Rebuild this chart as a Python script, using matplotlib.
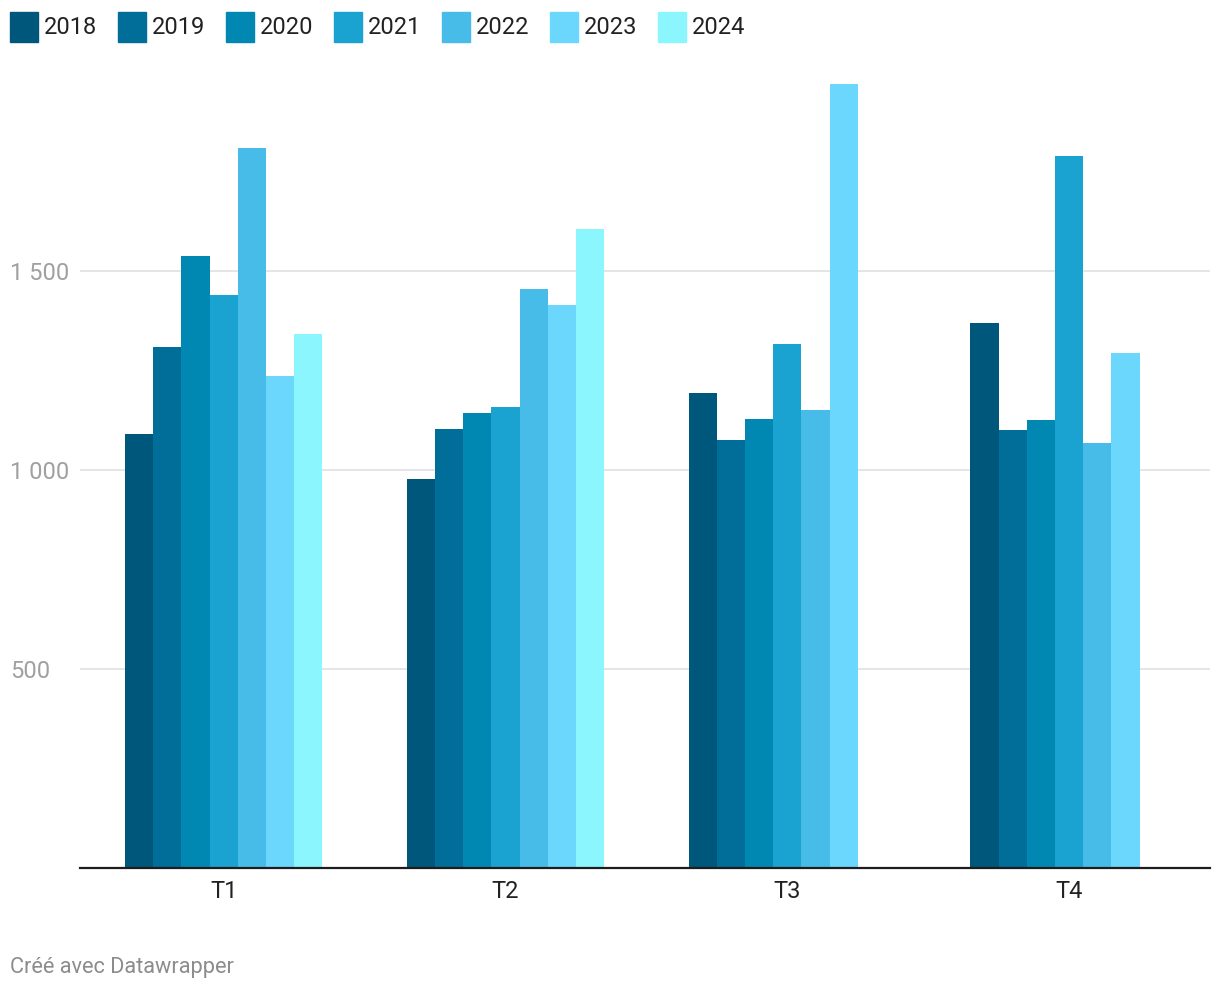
import matplotlib.pyplot as plt
from matplotlib.patches import Rectangle
import numpy as np

plt.rcParams['font.family'] = ['Roboto', 'DejaVu Sans']

quarters = ['T1', 'T2', 'T3', 'T4']
years = ['2018', '2019', '2020', '2021', '2022', '2023', '2024']
values = {
    '2018': [1090, 977, 1193, 1369],
    '2019': [1309, 1103, 1075, 1101],
    '2020': [1538, 1143, 1128, 1126],
    '2021': [1440, 1158, 1317, 1789],
    '2022': [1809, 1455, 1151, 1068],
    '2023': [1236, 1415, 1970, 1294],
    '2024': [1342, 1606, np.nan, np.nan],
}
colors = ['#00577c', '#006e98', '#0088b3', '#1aa3d0', '#48bce9', '#6bd7fd', '#8bf6fe']

W, H = 1220, 992
fig = plt.figure(figsize=(W / 100, H / 100), dpi=100)
ax = fig.add_axes([80 / W, 124 / H, 1130 / W, 796 / H])

x = np.arange(len(quarters))
bw = 0.1
for i, y in enumerate(years):
    ax.bar(x + (i - 3) * bw, values[y], width=bw, color=colors[i], zorder=2)

ax.set_xlim(-0.51, 3.5)
ax.set_ylim(0, 2000)
ax.set_yticks([500, 1000, 1500])
ax.set_yticklabels(['500', '1 000', '1 500'])
ax.yaxis.grid(True, color='#e0e0e0', linewidth=1.2, zorder=0)
# pad in points: 70 px -> ~50.5 pt so labels start near x=10
ax.tick_params(axis='y', length=0, pad=50.5, labelsize=17, labelcolor='#a0a0a0')
for lbl in ax.get_yticklabels():
    lbl.set_horizontalalignment('left')
ax.set_xticks(x)
ax.set_xticklabels(quarters)
ax.tick_params(axis='x', length=0, pad=9, labelsize=17, labelcolor='#222222')
for s in ['top', 'right', 'left']:
    ax.spines[s].set_visible(False)
ax.spines['bottom'].set_linewidth(1.6)
ax.spines['bottom'].set_color('#1d1d1d')
ax.spines['bottom'].set_zorder(3)

# legend on top
for i, y in enumerate(years):
    x0 = 10 + i * 108
    fig.patches.append(Rectangle((x0 / W, 1 - 42 / H), 28 / W, 30 / H,
                                 transform=fig.transFigure, color=colors[i]))
    fig.text((x0 + 34) / W, 1 - 27 / H, y, fontsize=17, color='#222222',
             va='center', ha='left')

fig.text(10 / W, 1 - 967 / H, 'Créé avec Datawrapper', fontsize=15.7,
         color='#8c8c8c', va='center', ha='left')

fig.savefig('out.png', dpi=100)
